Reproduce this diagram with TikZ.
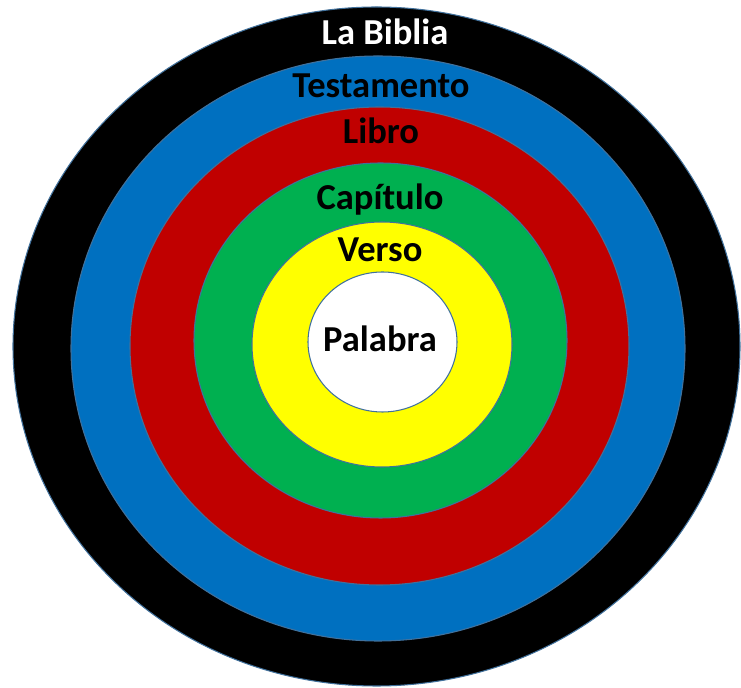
\documentclass[tikz,border=0pt]{standalone}
\usepackage{fontspec}
\setmainfont{Carlito}
\usepackage{tikz}
\definecolor{ringedge}{HTML}{41719C}
\definecolor{bibliaBlack}{HTML}{000000}
\definecolor{testBlue}{HTML}{0070C0}
\definecolor{libroRed}{HTML}{C00000}
\definecolor{capGreen}{HTML}{00B050}
\definecolor{versoYellow}{HTML}{FFFF00}

\begin{document}
\begin{tikzpicture}[x=0.02cm,y=-0.02cm,
    ring/.style={draw=ringedge,line width=0.6pt},
    lbl/.style={font=\bfseries\fontsize{20.8}{22}\selectfont,anchor=base,inner sep=0pt}]
        \useasboundingbox (0,0) rectangle (741,688);
        % rings, outside in
        \foreach \cx/\cy/\rx/\ry/\col in {376.5/346.5/363.5/339.5/bibliaBlack,
                                         378/348.5/307/292.5/testBlue,
                                         379.5/346/249.5/239/libroRed,
                                         380.5/340.5/186.5/177.5/capGreen,
                                         382/344.5/130/122.5/versoYellow,
                                         382.5/342/74.5/70/white}
            \draw[ring,fill=\col] (\cx,\cy) ellipse [x radius=\rx, y radius=\ry];
        \node[lbl,text=white] (biblia) at (385,45) {La Biblia};
        \node[lbl] (testamento) at (381,98) {Testamento};
        \node[lbl] (libro) at (381,144) {Libro};
        \node[lbl] (capitulo) at (380,210) {Capítulo};
        \node[lbl] (verso) at (380,262) {Verso};
        \node[lbl] (palabra) at (380,352) {Palabra};
    \end{tikzpicture}
\end{document}
